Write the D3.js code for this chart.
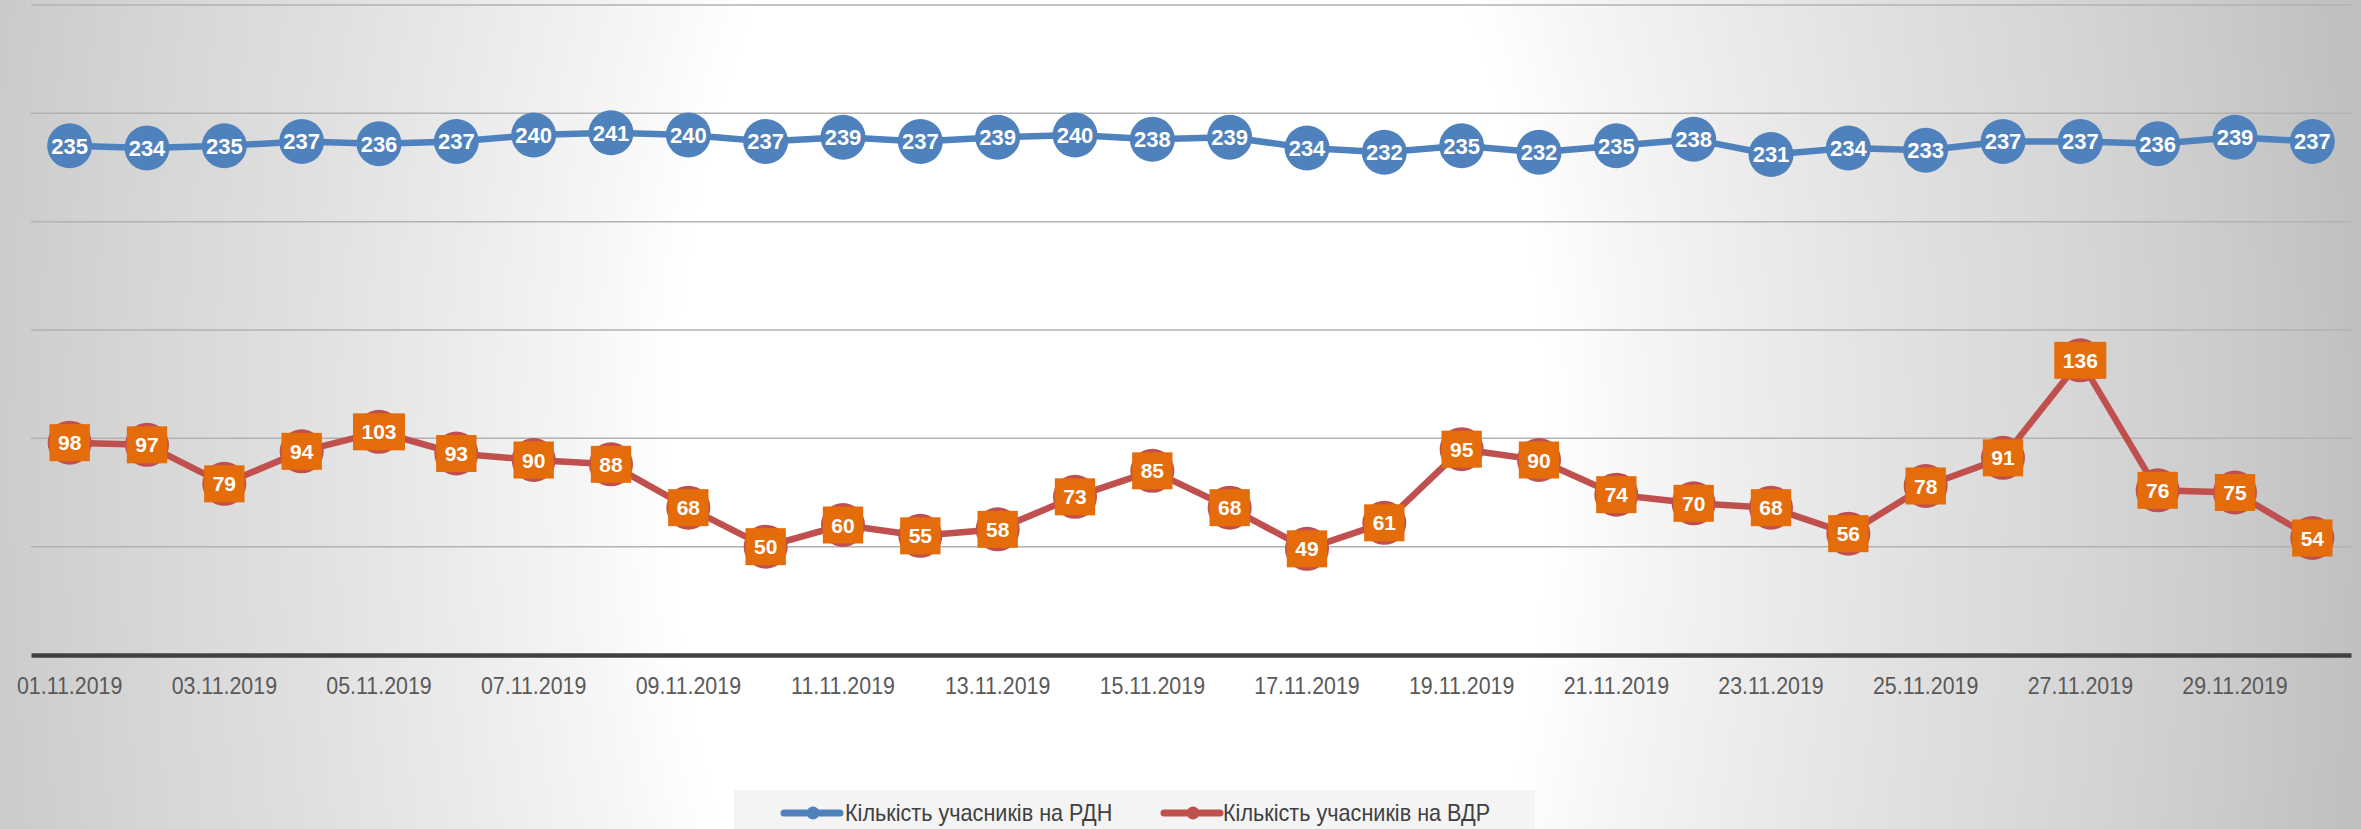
<!DOCTYPE html>
<html><head><meta charset="utf-8">
<script src="https://cdn.jsdelivr.net/npm/d3@7"></script>
<style>html,body{margin:0;padding:0;overflow:hidden;background:#fff}</style>
</head><body><svg id="c" width="2361" height="829"></svg>
<script>
const dates = ["01.11.2019","02.11.2019","03.11.2019","04.11.2019","05.11.2019","06.11.2019","07.11.2019","08.11.2019","09.11.2019","10.11.2019",
  "11.11.2019","12.11.2019","13.11.2019","14.11.2019","15.11.2019","16.11.2019","17.11.2019","18.11.2019","19.11.2019","20.11.2019",
  "21.11.2019","22.11.2019","23.11.2019","24.11.2019","25.11.2019","26.11.2019","27.11.2019","28.11.2019","29.11.2019","30.11.2019"];
const rdn = [235,234,235,237,236,237,240,241,240,237,239,237,239,240,238,239,234,232,235,232,235,238,231,234,233,237,237,236,239,237];
const vdr = [98,97,79,94,103,93,90,88,68,50,60,55,58,73,85,68,49,61,95,90,74,70,68,56,78,91,136,76,75,54];
const yTicks = [0,50,100,150,200,250,300];
const xTickLabels = ["01.11.2019","03.11.2019","05.11.2019","07.11.2019","09.11.2019","11.11.2019","13.11.2019","15.11.2019","17.11.2019","19.11.2019","21.11.2019","23.11.2019","25.11.2019","27.11.2019","29.11.2019"];
const seriesNames = ["Кількість учасників на РДН","Кількість учасників на ВДР"];

const W = 2361, H = 829;
const BLUE = "#4F81BD", RED = "#C0504D", ORANGE = "#E46C0A";
const FONT = "'Liberation Sans', Arial, sans-serif";
const svg = d3.select("#c");

// background gradient
const defs = svg.append("defs");
const cx = 1110, cy = 470;
const rg = defs.append("radialGradient").attr("id","bg")
  .attr("gradientUnits","userSpaceOnUse")
  .attr("cx",cx).attr("cy",cy).attr("r",1251).attr("fx",cx).attr("fy",cy)
  .attr("gradientTransform",`translate(${cx},${cy}) scale(1,1.82) translate(${-cx},${-cy})`);
[[0,"#ffffff"],[0.35,"#ffffff"],[0.42,"#f6f6f6"],[0.53,"#ebebeb"],[0.65,"#e0e0e0"],[0.78,"#d6d6d6"],[0.9,"#cbcbcb"],[1,"#c0c0c0"]]
  .forEach(([o,c]) => rg.append("stop").attr("offset",o).attr("stop-color",c));
svg.append("rect").attr("width",W).attr("height",H).attr("fill","url(#bg)");

const x = d3.scaleBand().domain(dates).range([31, 2351]);
const px = d => x(d) + x.bandwidth()/2;
const y = d3.scaleLinear().domain([0,300]).range([655,5]);

// gridlines
svg.append("g").selectAll("line").data(yTicks.filter(t=>t>0)).join("line")
  .attr("x1",31).attr("x2",2351)
  .attr("y1",d=>y(d)).attr("y2",d=>y(d))
  .attr("stroke","#b2b2b2").attr("stroke-width",1.5);

// x axis
const xAxis = svg.append("g").attr("transform",`translate(0,${y(0)})`)
  .call(d3.axisBottom(x).tickValues(xTickLabels).tickSize(0).tickSizeOuter(0));
xAxis.select(".domain").attr("stroke","#404040").attr("stroke-width",4.5);
xAxis.selectAll("text")
  .attr("y",39).attr("dy",null)
  .attr("fill","#595959")
  .attr("font-family",FONT).attr("font-size","23.5px")
  .attr("transform","scale(0.91,1)");

// blue series
const lineGen = d3.line().x((d,i)=>px(dates[i])).y(d=>y(d));
svg.append("path").datum(rdn).attr("d",lineGen)
  .attr("fill","none").attr("stroke",BLUE).attr("stroke-width",6.5).attr("stroke-linejoin","round");
const bl = svg.append("g").selectAll("g").data(rdn).join("g")
  .attr("transform",(d,i)=>`translate(${px(dates[i])},${y(d)})`);
bl.append("circle").attr("r",22.5).attr("fill",BLUE);
bl.append("text").text(d=>d).attr("text-anchor","middle").attr("dy","0.36em")
  .attr("fill","#fff").attr("font-family",FONT).attr("font-weight","bold").attr("font-size","22px");

// red series
svg.append("path").datum(vdr).attr("d",lineGen)
  .attr("fill","none").attr("stroke",RED).attr("stroke-width",6.5).attr("stroke-linejoin","round");
const rl = svg.append("g").selectAll("g").data(vdr).join("g")
  .attr("transform",(d,i)=>`translate(${px(dates[i])},${y(d)})`);
rl.append("circle").attr("r",22).attr("fill",RED);
rl.append("rect").attr("fill",ORANGE);
const rtxt = rl.append("text").text(d=>d).attr("text-anchor","middle").attr("dy","0.36em")
  .attr("fill","#fff").attr("font-family",FONT).attr("font-weight","bold").attr("font-size","21px");
rtxt.each(function(d){
  const w = this.getComputedTextLength() + 17;
  d3.select(this.parentNode).select("rect")
    .attr("x",-w/2).attr("y",-18.5).attr("width",w).attr("height",37);
});

// legend
svg.append("rect").attr("x",734).attr("y",790).attr("width",801).attr("height",50).attr("fill","#f4f4f4");
const legItems = [
  {name: seriesNames[0], color: BLUE, x0: 784, tx: 845},
  {name: seriesNames[1], color: RED, x0: 1164, tx: 1223}
];
const lg = svg.append("g").selectAll("g").data(legItems).join("g");
lg.append("line").attr("x1",d=>d.x0).attr("x2",d=>d.x0+56).attr("y1",813).attr("y2",813)
  .attr("stroke",d=>d.color).attr("stroke-width",7).attr("stroke-linecap","round");
lg.append("circle").attr("cx",d=>d.x0+29).attr("cy",813).attr("r",6.5).attr("fill",d=>d.color);
lg.append("g").attr("transform",d=>`translate(${d.tx},821)`)
  .append("text").text(d=>d.name).attr("fill","#404040")
  .attr("font-family",FONT).attr("font-size","23px").attr("transform","scale(0.94,1)");
</script>
</body></html>
